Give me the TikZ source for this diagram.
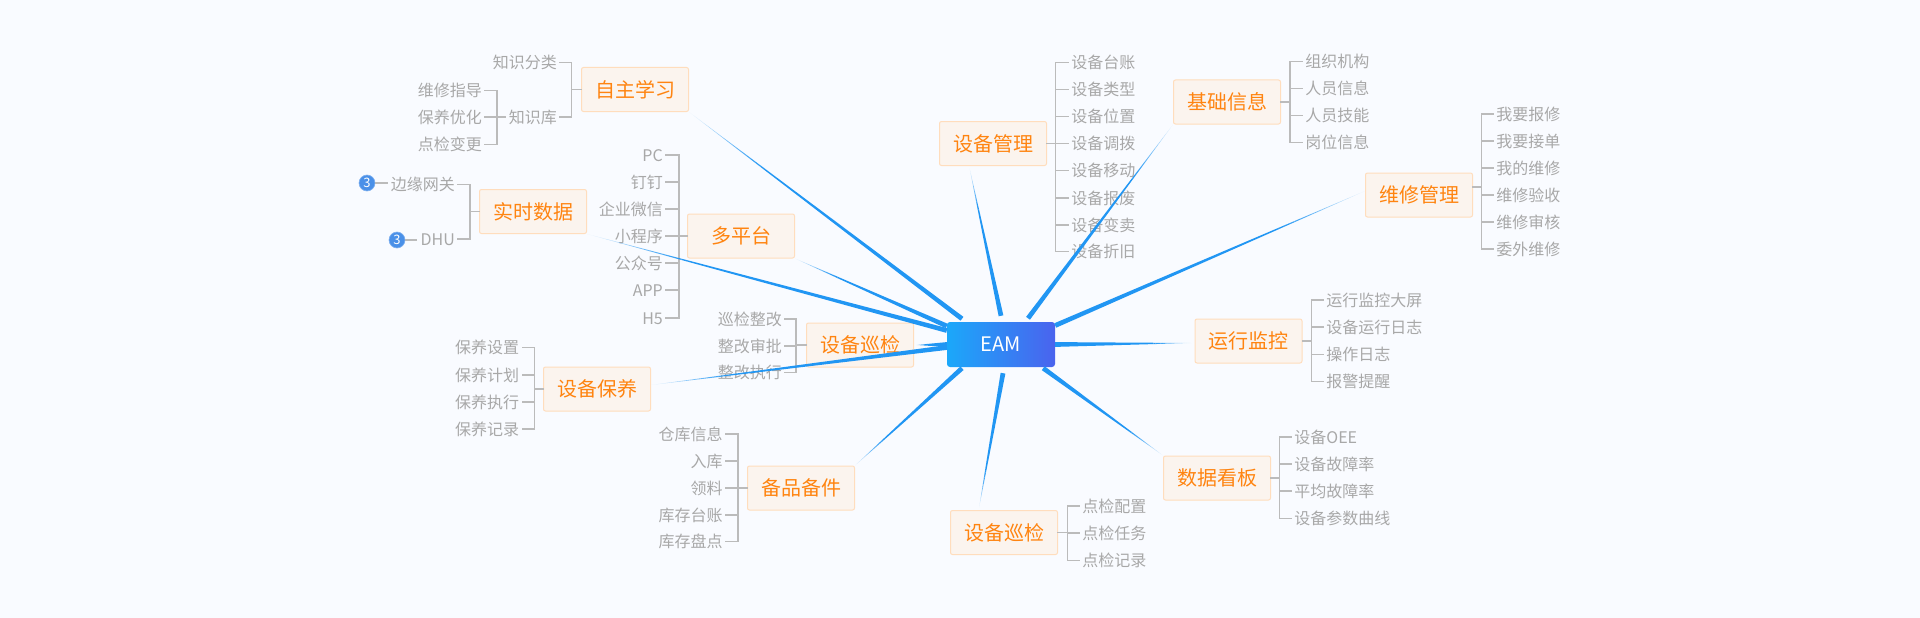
\documentclass[tikz,border=0pt]{standalone}
\usepackage{fontspec}
\setmainfont{Noto Sans CJK SC}
\usetikzlibrary{calc}
\definecolor{bgc}{HTML}{F9FBFF}
\definecolor{boxfill}{HTML}{FBF4EE}
\definecolor{boxline}{HTML}{FFDDBD}
\definecolor{orangetxt}{HTML}{FF8410}
\definecolor{kidtxt}{HTML}{A8A8A8}
\definecolor{treeline}{HTML}{BBBBBB}
\definecolor{spokeblue}{HTML}{2196F3}
\definecolor{rootl}{HTML}{1BA8FA}
\definecolor{rootr}{HTML}{4A63EE}
\definecolor{badge}{HTML}{4A90E8}
\tikzset{
  topic/.style={draw=boxline,fill=boxfill,line width=1pt,rounded corners=2pt,minimum width=107pt,minimum height=44pt,inner sep=0pt,text=orangetxt,font=\fontsize{20}{20}\selectfont},
  kid/.style={text=kidtxt,font=\fontsize{16}{16}\selectfont,inner xsep=3pt,inner ysep=0pt,text height=14pt,text depth=2pt},
  branch/.style={draw=treeline,line width=1.1pt,line cap=rect},
  badgenode/.style={circle,fill=badge,draw=badge!70,line width=.6pt,inner sep=0pt,minimum size=16pt,text=white,font=\fontsize{13}{13}\selectfont}
}
\newcommand\kidsL[3]{\foreach \n/\yy/\txt in {#3} {\node[kid,anchor=east] (\n) at (#1,\yy) {\txt}; \draw[branch] (\n.east) -- (#2,\yy);}}
\newcommand\kidsR[3]{\foreach \n/\yy/\txt in {#3} {\node[kid,anchor=west] (\n) at (#1-0.8,\yy) {\txt}; \draw[branch] (\n.west) -- (#2,\yy);}}
\newcommand\spoke[2]{%
  \coordinate (A) at #1; \coordinate (B) at #2;
  \coordinate (P) at ($(A)!2.4pt!90:(B)$); \coordinate (Q) at ($(A)!2.4pt!-90:(B)$);
  \fill[spokeblue] (P) -- (Q) -- ($(Q)!0.72!(B)$) -- ($(P)!0.72!(B)$) -- cycle;
  \foreach \i in {0,...,15} {
    \pgfmathsetmacro\ta{0.72+\i*0.28/16}
    \pgfmathsetmacro\tb{0.72+(\i+1)*0.28/16}
    \pgfmathsetmacro\op{pow(1-(\i+0.5)/16,0.8)}
    \fill[spokeblue,opacity=\op] ($(P)!\ta!(B)$) -- ($(Q)!\ta!(B)$) -- ($(Q)!\tb!(B)$) -- ($(P)!\tb!(B)$) -- cycle;
  }%
}
\begin{document}
\begin{tikzpicture}[x=1pt,y=-1pt]
\useasboundingbox (0,0) rectangle (1920,618);
\fill[bgc] (0,0) rectangle (1920,618);

% topics
\node[topic] (zizhu) at (635,89.5) {自主学习};
\node[topic] (shishi) at (533,211.5) {实时数据};
\node[topic] (duo) at (741,236) {多平台};
\node[topic] (xunL) at (860,345) {设备巡检};
\node[topic] (baoyang) at (597,389) {设备保养};
\node[topic] (beipin) at (801,488) {备品备件};
\node[topic] (xunB) at (1004,532.5) {设备巡检};
\node[topic] (guanli) at (993,143.5) {设备管理};
\node[topic] (jichu) at (1227,102) {基础信息};
\node[topic] (weixiu) at (1419,195) {维修管理};
\node[topic] (yunxing) at (1248.5,341) {运行监控};
\node[topic] (kanban) at (1217,478) {数据看板};

% 自主学习
\kidsL{560}{571.7}{a1/62.5/知识分类,a2/117/知识库}
\draw[branch] (a1.east -| 571.7,0) -- (a2.east -| 571.7,0);
\draw[branch] (zizhu.west) -- (571.7,89.5);
\kidsL{485}{497}{a3/90.3/维修指导,a4/117/保养优化,a5/144.7/点检变更}
\draw[branch] (a3.east -| 497,0) -- (a5.east -| 497,0);
\draw[branch] (a2.west) -- (497,117);

% 实时数据
\kidsL{458}{470}{b1/184.5/边缘网关,b2/239/DHU}
\draw[branch] (b1.east -| 470,0) -- (b2.east -| 470,0);
\draw[branch] (shishi.west) -- (470,211.5);
\node[badgenode] (c1) at (367,183) {3};
\node[badgenode] (c2) at (397,240) {3};
\draw[branch,line cap=butt] (c1.east) -- (b1.west |- c1.east);
\draw[branch,line cap=butt] (c2.east) -- (b2.west |- c2.east);

% 多平台
\kidsL{666}{679}{d1/155/PC,d2/182/钉钉,d3/209/企业微信,d4/236/小程序,d5/263/公众号,d6/290/APP,d7/318/H5}
\draw[branch] (d1.east -| 679,0) -- (d7.east -| 679,0);
\draw[branch] (duo.west) -- (679,236);

% 设备巡检 left
\kidsL{785}{796}{e1/319/巡检整改,e2/346/整改审批,e3/372.7/整改执行}
\draw[branch] (e1.east -| 796,0) -- (e3.east -| 796,0);
\draw[branch] (xunL.west) -- (796,345);

% 设备保养
\kidsL{522.4}{534.7}{f1/347.7/保养设置,f2/375/保养计划,f3/402/保养执行,f4/429/保养记录}
\draw[branch] (f1.east -| 534.7,0) -- (f4.east -| 534.7,0);
\draw[branch] (baoyang.west) -- (534.7,389);

% 备品备件
\kidsL{725.7}{738}{g1/434/仓库信息,g2/461/入库,g3/488/领料,g4/515/库存台账,g5/541.7/库存盘点}
\draw[branch] (g1.east -| 738,0) -- (g5.east -| 738,0);
\draw[branch] (beipin.west) -- (738,488);

% 设备巡检 bottom
\kidsR{1080}{1067.7}{h1/506/点检配置,h2/533/点检任务,h3/560.7/点检记录}
\draw[branch] (h1.west -| 1067.7,0) -- (h3.west -| 1067.7,0);
\draw[branch] (xunB.east) -- (1067.7,532.5);

% 数据看板
\kidsR{1292}{1279.7}{i1/437/设备OEE,i2/464/设备故障率,i3/491/平均故障率,i4/518.7/设备参数曲线}
\draw[branch] (i1.west -| 1279.7,0) -- (i4.west -| 1279.7,0);
\draw[branch] (kanban.east) -- (1279.7,478);

% 运行监控
\kidsR{1324}{1311.7}{j1/300/运行监控大屏,j2/327/设备运行日志,j3/354.4/操作日志,j4/381.6/报警提醒}
\draw[branch] (j1.west -| 1311.7,0) -- (j4.west -| 1311.7,0);
\draw[branch] (yunxing.east) -- (1311.7,341);

% 维修管理
\kidsR{1494}{1481.5}{k1/114/我要报修,k2/141/我要接单,k3/168/我的维修,k4/195/维修验收,k5/222/维修审核,k6/249/委外维修}
\draw[branch] (k1.west -| 1481.5,0) -- (k6.west -| 1481.5,0);
\draw[branch] ([yshift=8pt]weixiu.east) -- ([yshift=8pt]weixiu.east -| 1481.5,0);

% 基础信息
\kidsR{1303}{1290}{l1/61.3/组织机构,l2/88.3/人员信息,l3/115.5/人员技能,l4/142.3/岗位信息}
\draw[branch] (l1.west -| 1290,0) -- (l4.west -| 1290,0);
\draw[branch] (jichu.east) -- (1290,102);

% 设备管理
\kidsR{1069}{1055.6}{m1/62.3/设备台账,m2/89.3/设备类型,m3/116.5/设备位置,m4/143.6/设备调拨,m5/170.6/设备移动,m6/198/设备报废,m7/225/设备变卖,m8/251.7/设备折旧}
\draw[branch] (m1.west -| 1055.6,0) -- (m8.west -| 1055.6,0);
\draw[branch] (guanli.east) -- (1055.6,143.5);

% root
\node[rounded corners=3pt,left color=rootl,right color=rootr,minimum width=108pt,minimum height=45pt,inner sep=0pt,text=white,font=\fontsize{20}{20}\selectfont] (root) at (1001,344.5) {EAM};

% spokes
\spoke{([yshift=6pt]root.north)}{([xshift=-23.5pt,yshift=-2pt]guanli.south)}
\spoke{([xshift=27pt,yshift=3.5pt]root.north)}{(jichu.south west)}
\spoke{([yshift=-3.7pt]root.north east)}{([yshift=4pt]weixiu.west)}
\spoke{(root.east)}{([xshift=-3pt,yshift=-2pt]yunxing.west)}
\spoke{([xshift=-12pt,yshift=-1pt]root.south east)}{(kanban.north west)}
\spoke{([xshift=2pt,yshift=-6pt]root.south)}{([xshift=-25pt,yshift=2pt]xunB.north)}
\spoke{([xshift=-39pt,yshift=-1pt]root.south)}{(beipin.north east)}
\spoke{([yshift=-3pt]root.west)}{([yshift=4pt]baoyang.east)}
\spoke{(root.west)}{([xshift=2pt]xunL.east)}
\spoke{([yshift=14pt]root.west)}{(shishi.south east)}
\spoke{([yshift=18.5pt]root.west)}{(duo.south east)}
\spoke{([xshift=-39pt,yshift=3pt]root.north)}{(zizhu.south east)}
\end{tikzpicture}
\end{document}
